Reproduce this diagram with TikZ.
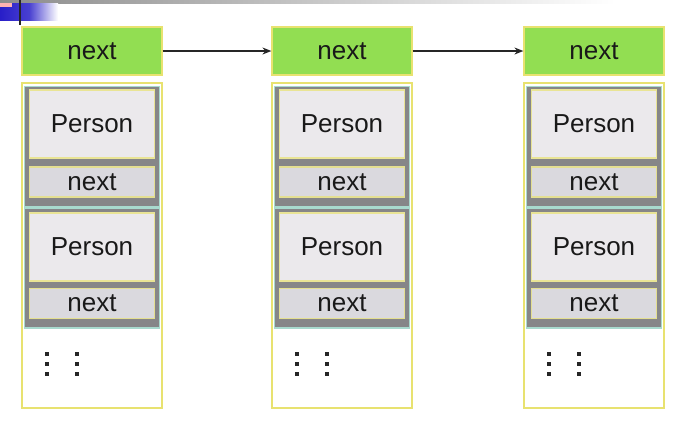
\documentclass[tikz,border=0pt]{standalone}
\usepackage{fontspec}
\setmainfont{Liberation Sans}
\usetikzlibrary{arrows.meta}
\definecolor{hdrgreen}{RGB}{146,222,82}
\definecolor{ybord}{RGB}{232,226,112}
\definecolor{panelgray}{RGB}{134,134,136}
\definecolor{tealbord}{RGB}{168,218,206}
\definecolor{personfill}{RGB}{235,233,236}
\definecolor{nextfill}{RGB}{218,217,222}
\definecolor{slideblue}{RGB}{40,30,200}
\definecolor{inktext}{RGB}{25,25,25}
\tikzset{
  txt/.style={font=\fontsize{26}{26}\selectfont, text=inktext},
  hdr/.style={txt, draw=ybord, line width=1.2pt, fill=hdrgreen, minimum width=140pt, minimum height=48pt, inner sep=0pt},
  outerbox/.style={draw=ybord, line width=1.5pt, fill=white, minimum width=140pt, minimum height=325pt, inner sep=0pt},
  panel/.style={draw=tealbord, line width=1.5pt, fill=panelgray, minimum width=135pt, minimum height=120pt, inner sep=0pt},
  personbox/.style={txt, draw=ybord!70!personfill, line width=1.2pt, fill=personfill, minimum width=125pt, minimum height=68pt, inner sep=0pt},
  nextbox/.style={txt, draw=ybord!70!nextfill, line width=1.2pt, fill=nextfill, minimum width=125pt, minimum height=30pt, inner sep=0pt},
  link/.style={-{Stealth[length=9pt,width=7pt]}, line width=1.3pt, black!85},
  dotmark/.style={rectangle, fill=black!85, inner sep=0pt, minimum size=3.6pt}
}
\begin{document}
\begin{tikzpicture}[x=1pt,y=-1pt]
\useasboundingbox (0,0) rectangle (689,424);
% slide decorations
\shade[left color=black!45, right color=white] (0,0) rectangle (615,3);
\shade[left color=slideblue, right color=white, middle color=slideblue!85] (0,3) rectangle (58,20);
\fill[red!30!white] (0,3) rectangle (12,7);
\draw[line width=1.6pt, black!85] (20,0) -- (20,25);
\foreach \i/\L in {1/22,2/272,3/524}{
  \pgfmathsetmacro{\cx}{\L+70}
  \node[hdr] (h\i) at (\cx,51) {next};
  \node[outerbox] (o\i) at (\cx,245.5) {};
  \node[panel] (pa\i) at (\cx,146.5) {};
  \node[personbox] (pa\i p) at (\cx,124) {Person};
  \node[nextbox] (pa\i n) at (\cx,182) {next};
  \node[panel] (pb\i) at (\cx,268) {};
  \node[personbox] (pb\i p) at (\cx,247) {Person};
  \node[nextbox] (pb\i n) at (\cx,303.5) {next};
  \foreach \dx in {25,55}{
    \foreach \dy in {354,364,374}{
      \node[dotmark] (d\i-\dx-\dy) at (\L+\dx,\dy) {};
    }
  }
}
\draw[link] (h1.east) -- (h2.west);
\draw[link] (h2.east) -- (h3.west);
\end{tikzpicture}
\end{document}
